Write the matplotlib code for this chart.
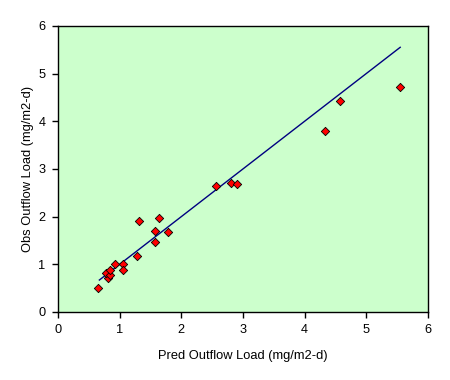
import matplotlib
matplotlib.use("Agg")
import matplotlib.pyplot as plt

plt.rcParams['font.family'] = ['Liberation Sans', 'DejaVu Sans']

# predicted vs observed outflow load (mg/m2-d)
pred = [0.64, 0.81, 0.77, 0.84, 0.84, 0.92, 1.06, 1.06, 1.28, 1.31,
        1.57, 1.58, 1.63, 1.79, 2.56, 2.80, 2.91, 4.33, 4.57, 5.54]
obs = [0.51, 0.72, 0.82, 0.78, 0.89, 1.01, 1.01, 0.89, 1.18, 1.91,
       1.70, 1.47, 1.98, 1.68, 2.65, 2.70, 2.68, 3.80, 4.43, 4.72]
line_x = [0.67, 5.55]
line_y = [0.67, 5.55]

fig = plt.figure(figsize=(4.5, 3.8), dpi=100)
ax = fig.add_axes([0.129, 0.179, 0.822, 0.753])
ax.set_facecolor('#CCFFCC')

ax.plot(line_x, line_y, color='#000080', lw=1)
ax.scatter(pred, obs, marker='D', s=18, c='#FF0000', edgecolors='black',
           linewidths=0.6, zorder=3)

ax.set_xlim(0, 6)
ax.set_ylim(0, 6)
ax.set_xticks(range(7))
ax.set_yticks(range(7))
ax.tick_params(direction='out', length=4, width=1, labelsize=9.2, pad=5)
for s in ax.spines.values():
    s.set_linewidth(1)

ax.set_xlabel('Pred Outflow Load (mg/m2-d)', fontsize=9.3, labelpad=10)
ax.set_ylabel('Obs Outflow Load (mg/m2-d)', fontsize=9.3, labelpad=3)

fig.savefig('out.png', dpi=100)
